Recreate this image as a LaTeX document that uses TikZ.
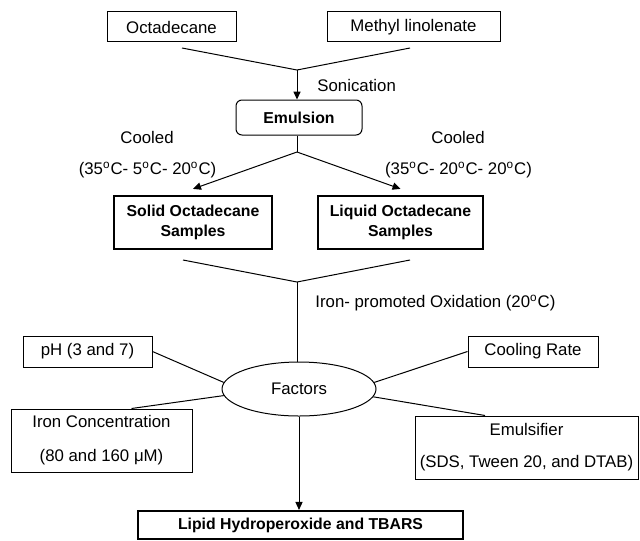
\documentclass[tikz,border=0pt]{standalone}
\usepackage{fontspec}
\setmainfont{Liberation Sans}
\usepackage{tikz}
\usetikzlibrary{positioning}
\usetikzlibrary{shapes.geometric,calc,arrows.meta}
\tikzset{
	>={Triangle[length=4pt,width=3.6pt]},
	ln/.style = {line width=0.5pt},
	box/.style ={draw, line width=0.5pt, inner sep=0pt, align=center,
	 font=\fontsize{8.4}{10}\selectfont},
	bbox/.style = {box, line width=1.1pt, font=\fontsize{7.9}{10}\selectfont\bfseries},
	lab/.style = {inner sep=0pt, font=\fontsize{8.4}{10}\selectfont},
}

\begin{document}
\begin{tikzpicture}[x=0.5pt, y=-0.5pt]
               \useasboundingbox (0,0) rectangle (640,540);
               % starting materials
                \node (oct) [box, minimum width=64.5pt, minimum height=15pt] at (171.5,27) {Octadecane};
                \node (mel) [box, minimum width=86.5pt, minimum height=15pt] at (413.5,27) {Methyl linolenate};
                \node (emu) [box, rounded corners=3pt, minimum width=63pt, minimum height=17.5pt,
                 font=\fontsize{7.9}{10}\selectfont\bfseries] at (299,117.5) {Emulsion};
                \node (sol) [bbox, minimum width=79pt, minimum height=26.5pt] at (193,222.5) {Solid Octadecane\\Samples};
                \node (liq) [bbox, minimum width=82.5pt, minimum height=26.5pt] at (400.5,222.5) {Liquid Octadecane\\Samples};
                % factors
                \node (fac) [ellipse, draw, ln, minimum width=77pt, minimum height=27pt, lab] at (299,389) {Factors};
                \node (ph) [box, minimum width=64.5pt, minimum height=15.5pt] at (87.5,351.5) {pH (3 and 7)};
                \node (cool) [box, minimum width=65pt, minimum height=15.5pt] at (533,351.5) {Cooling Rate};
                \node (iron) [box, minimum width=90.5pt, minimum height=31.5pt] at (101.5,440.5) {Iron Concentration\\[7pt](80 and 160 μM)};
                \node (emf) [box, minimum width=111.5pt, minimum height=31.5pt] at (526.5,447.5) {Emulsifier\\[6pt](SDS, Tween 20, and DTAB)};
                \node (lip) [bbox, minimum width=162.5pt, minimum height=14pt] at (300.5,525) {Lipid Hydroperoxide and TBARS};
                % labels
                \node (son) [lab, anchor=west] at (317,85) {Sonication};
                \node (cl1) [lab] at (147,137) {Cooled};
                \node (tl1) [lab] at (147.5,170) {(35\textsuperscript{o}C- 5\textsuperscript{o}C- 20\textsuperscript{o}C)};
                \node (cl2) [lab] at (458,137) {Cooled};
                \node (tl2) [lab] at (458.5,170) {(35\textsuperscript{o}C- 20\textsuperscript{o}C- 20\textsuperscript{o}C)};
                \node (oxi) [lab, anchor=west] at (315,303) {Iron- promoted Oxidation (20\textsuperscript{o}C)};
                % junctions
                \coordinate (o1) at (182,48);
                \coordinate (m1) at (410,48);
                \coordinate (j1) at (297,70);
                \coordinate (j2) at (297,152);
                \coordinate (s1) at (183,260);
                \coordinate (s2) at (410,260);
                \coordinate (j3) at (297,282);
                \draw[ln] (o1) -- (j1) -- (m1);
                \draw[ln,->] (j1) -- (j1 |- emu.north);
                \draw[ln] (emu.south -| j2) -- (j2);
                \path[ln,->] (j2) edge ([yshift=3pt]sol.north);
                \path[ln,->] (j2) edge ([yshift=3pt]liq.north);
                \draw[ln] (s1) -- (j3) -- (s2);
                \draw[ln] (j3) -- (j3 |- fac.north);
                \draw[ln] (ph.east) -- (fac.175);
                \draw[ln] (cool.west) -- (fac.5);
                \draw[ln] ([xshift=15pt]iron.north) -- (fac.185);
                \draw[ln] ([xshift=-20.75pt]emf.north) -- (fac.354);
                \draw[ln,->] (fac.south) -- (fac.south |- lip.north);
        \end{tikzpicture}
\end{document}
